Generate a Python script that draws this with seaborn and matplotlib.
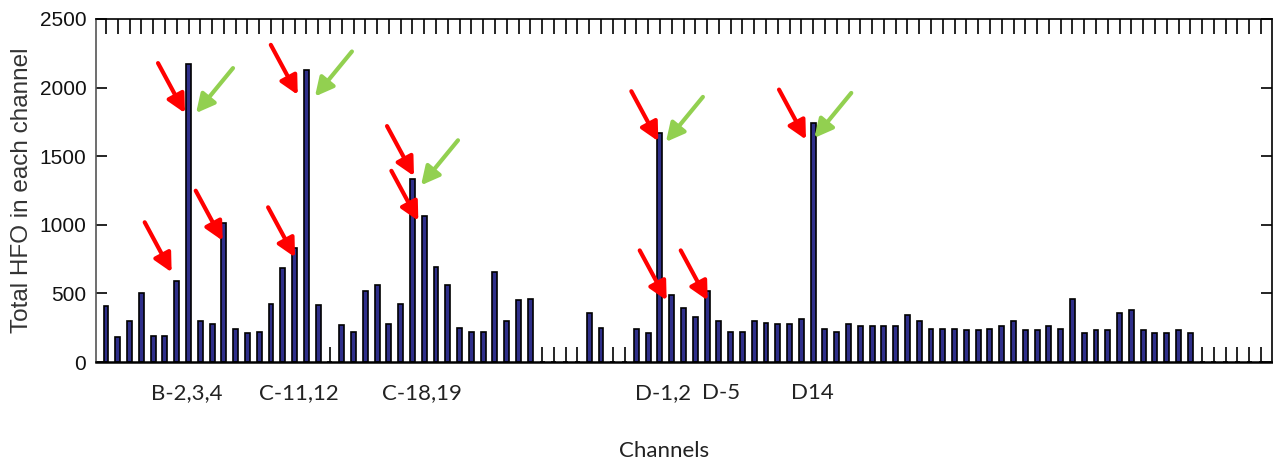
import numpy as np
import pandas as pd
import matplotlib
matplotlib.use("Agg")
import matplotlib.pyplot as plt
import matplotlib.transforms as mtransforms
import seaborn as sns

# Total HFO count per recording channel (channels 1..99; 0 = no detections)
channels = list(range(1, 100))
hfo_counts = [
    410, 180, 300, 505, 190, 190, 590, 2175, 300, 275,
    1010, 237, 213, 220, 425, 686, 831, 2130, 413, 0,
    268, 220, 517, 563, 275, 425, 1335, 1065, 696, 563,
    249, 220, 220, 654, 302, 449, 461, 0, 0, 0,
    0, 360, 249, 0, 0, 239, 213, 1670, 490, 396,
    328, 517, 302, 220, 220, 302, 285, 275, 275, 312,
    1745, 237, 220, 275, 263, 263, 263, 263, 341, 299,
    244, 244, 237, 232, 232, 244, 263, 299, 232, 232,
    263, 244, 456, 215, 232, 232, 357, 382, 232, 215,
    215, 232, 215, 0, 0, 0, 0, 0, 0,
]

# Electrode group labels and the channel position they sit under
group_labels = ["B-2,3,4", "C-11,12", "C-18,19", "D-1,2", "D-5", "D14"]
group_positions = [7.87, 17.38, 27.81, 48.26, 53.18, 60.90]

# Arrow heads (channel, count) for the highlighted channels
red_arrow_heads = [
    (7.70, 1814), (6.57, 654), (10.90, 884), (17.04, 763), (17.27, 1947),
    (27.13, 1355), (27.50, 1029), (47.86, 1609), (48.57, 449), (52.05, 449),
    (60.39, 1621),
]
green_arrow_heads = [
    (8.64, 1814), (18.73, 1935), (27.73, 1288), (48.51, 1604), (61.10, 1633),
]

df = pd.DataFrame({"channel": channels, "hfo": hfo_counts})

sns.set_style("white")
plt.rcParams["font.family"] = ["Liberation Sans", "DejaVu Sans"]

fig = plt.figure(figsize=(12.73, 4.63), dpi=100)
ax = fig.add_axes([0.0754, 0.2181, 0.9238, 0.7409])

sns.barplot(
    data=df, x="channel", y="hfo", native_scale=True, width=0.42,
    color="#2f2f8a", saturation=1, edgecolor="black", linewidth=1.2,
    errorbar=None, ax=ax,
)

ax.set_xlim(0.15, 99.93)
ax.set_ylim(0, 2500)
ax.set_axisbelow(True)

# One tick per channel on top and bottom, no labels
ax.set_xticks(channels)
ax.set_xticklabels([])
ax.tick_params(axis="x", direction="in", length=10.5, width=1.2, color="black",
               top=True, bottom=True, labelbottom=False)
ax.set_yticks([0, 500, 1000, 1500, 2000, 2500])
ax.tick_params(axis="y", direction="in", length=8, width=1.2, color="black",
               left=True, right=True, labelsize=15, pad=7, labelcolor="#111111")

for side, spine in ax.spines.items():
    spine.set_visible(True)
    spine.set_color("black")
    spine.set_linewidth(1.2)
ax.spines["bottom"].set_linewidth(1.8)
ax.spines["left"].set_color("#555555")

ax.set_xlabel("")
ax.set_ylabel("Total HFO in each channel", fontsize=17.5, color="#333333", va="center")
ax.yaxis.set_label_coords(-0.063, 0.5)

# Electrode group names under the axis
trans = mtransforms.blended_transform_factory(ax.transData, ax.transAxes)
for lab, pos in zip(group_labels, group_positions):
    ax.text(pos, -0.09, lab, transform=trans, ha="center", va="center",
            fontsize=16, family=["Lato", "DejaVu Sans"], color="#222222")

fig.text(0.522, 0.026, "Channels", ha="center", va="center", fontsize=16,
         family=["Lato", "DejaVu Sans"], color="#222222")

# Highlight arrows
arrow_kw = dict(arrowstyle="-|>,head_length=0.55,head_width=0.28",
                lw=3, shrinkA=0, shrinkB=0, mutation_scale=20)
for hx, hy in red_arrow_heads:
    ax.annotate("", xy=(hx, hy), xytext=(-19.4, 36), textcoords="offset points",
                arrowprops=dict(color="#ff0000", **arrow_kw), annotation_clip=False)
for hx, hy in green_arrow_heads:
    ax.annotate("", xy=(hx, hy), xytext=(26.6, 32.4), textcoords="offset points",
                arrowprops=dict(color="#92d050", **arrow_kw), annotation_clip=False)

fig.savefig("out.png", dpi=100)
